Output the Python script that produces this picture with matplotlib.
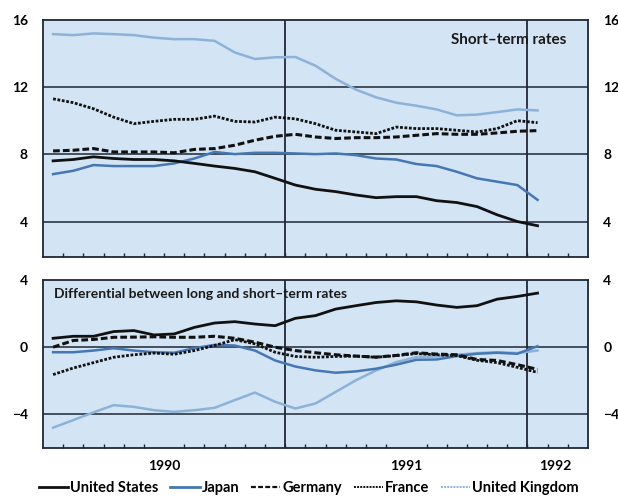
import numpy as np
import matplotlib
matplotlib.use("Agg")
import matplotlib.pyplot as plt
from matplotlib.lines import Line2D

plt.rcParams['font.family'] = ['Lato', 'DejaVu Sans']

# monthly values, Jan 1990 .. Jan 1992 (plotted at mid-month)
months = np.arange(25) + 0.5

# short-term rates
us_short = [7.62, 7.70, 7.86, 7.76, 7.70, 7.70, 7.62, 7.47, 7.31, 7.17, 6.97, 6.58, 6.18,
            5.93, 5.79, 5.59, 5.43, 5.49, 5.49, 5.25, 5.14, 4.90, 4.41, 4.01, 3.76]
japan_short = [6.83, 7.03, 7.37, 7.31, 7.31, 7.31, 7.47, 7.76, 8.15, 8.02, 8.10, 8.10, 8.06,
               8.02, 8.06, 7.96, 7.76, 7.70, 7.43, 7.31, 6.97, 6.58, 6.38, 6.18, 5.30]
germany_short = [8.21, 8.25, 8.35, 8.15, 8.15, 8.15, 8.10, 8.30, 8.35, 8.55, 8.85, 9.08, 9.20,
                 9.04, 8.95, 9.00, 9.00, 9.04, 9.14, 9.24, 9.20, 9.20, 9.28, 9.38, 9.42]
france_short = [11.31, 11.08, 10.72, 10.22, 9.83, 9.97, 10.09, 10.09, 10.28, 9.97, 9.93, 10.22, 10.12,
                9.83, 9.44, 9.34, 9.24, 9.63, 9.54, 9.54, 9.44, 9.34, 9.54, 10.01, 9.89]
uk_short = [15.16, 15.10, 15.20, 15.16, 15.10, 14.95, 14.86, 14.86, 14.76, 14.07, 13.68, 13.78, 13.80,
            13.28, 12.50, 11.86, 11.40, 11.08, 10.90, 10.68, 10.33, 10.37, 10.52, 10.68, 10.62]

# long minus short-term rates
us_diff = [0.53, 0.65, 0.65, 0.93, 0.99, 0.73, 0.79, 1.18, 1.44, 1.52, 1.38, 1.28, 1.72,
           1.88, 2.27, 2.47, 2.66, 2.76, 2.70, 2.51, 2.37, 2.47, 2.86, 3.02, 3.22]
japan_diff = [-0.30, -0.30, -0.20, -0.06, -0.20, -0.30, -0.33, -0.06, 0.14, 0.10, -0.20, -0.79, -1.15,
              -1.38, -1.52, -1.44, -1.28, -1.04, -0.75, -0.73, -0.53, -0.39, -0.33, -0.39, 0.06]
germany_diff = [0.00, 0.40, 0.46, 0.59, 0.60, 0.62, 0.59, 0.59, 0.65, 0.53, 0.30, 0.00, -0.20,
                -0.33, -0.45, -0.53, -0.59, -0.49, -0.33, -0.41, -0.45, -0.73, -0.79, -1.04, -1.32]
france_diff = [-1.63, -1.24, -0.92, -0.60, -0.45, -0.35, -0.42, -0.20, 0.10, 0.45, 0.20, -0.30, -0.55,
               -0.60, -0.55, -0.53, -0.60, -0.50, -0.38, -0.45, -0.50, -0.78, -0.92, -1.20, -1.50]
uk_diff = [-4.79, -4.34, -3.88, -3.45, -3.55, -3.75, -3.85, -3.75, -3.61, -3.15, -2.70, -3.25, -3.65,
           -3.35, -2.66, -1.97, -1.38, -0.89, -0.59, -0.55, -0.45, -0.35, -0.30, -0.35, -0.20]

year_labels = ['1990', '1991', '1992']
year_pos = [6, 18, 25.4]

bg = '#d3e4f4'
frame = '#1e2735'
c_us = '#111111'
c_japan = '#4677b4'
c_uk = '#8db2d8'

fig = plt.figure(figsize=(6.18, 4.97), dpi=100)
W, H = 618, 497
ax1 = fig.add_axes([43 / W, 1 - 257 / H, 545 / W, 237 / H])
ax2 = fig.add_axes([43 / W, 1 - 448 / H, 545 / W, 168 / H])

# title is cut off by the top edge in the source, only descenders show
fig.text(315 / W, 1 + 6 / H, '(monthly averages)', ha='center', va='baseline', fontsize=15)


def style(ax, ylim, yticks, hlines):
    ax.set_facecolor(bg)
    ax.set_xlim(0, 27)
    ax.set_ylim(*ylim)
    for s in ax.spines.values():
        s.set_color(frame)
        s.set_linewidth(1.3)
    for h in hlines:
        ax.axhline(h, color=frame, lw=1.1, zorder=1)
    for v in (12, 24):
        ax.axvline(v, color=frame, lw=1.3, zorder=1)
    ax.set_yticks(yticks)
    ax.tick_params(axis='y', left=False, right=False, labelleft=True, labelright=True,
                   pad=7.5, labelsize=10)
    for lab in ax.get_yticklabels():
        lab.set_fontweight('bold')
    ax.set_xticks(np.arange(1, 27), minor=True)
    ax.tick_params(axis='x', which='minor', direction='in', length=3, width=1, color=frame)
    ax.tick_params(axis='x', which='major', length=0)


style(ax1, (1.9, 16), [4, 8, 12, 16], [4, 8, 12])
style(ax2, (-6, 4), [-4, 0, 4], [-4, 0])
ax1.set_xticks([])
ax1.set_xticks(np.arange(1, 27), minor=True)
ax2.set_xticks(year_pos, year_labels)
ax2.tick_params(axis='x', which='major', pad=9, labelsize=10)
for lab in ax2.get_xticklabels():
    lab.set_fontweight('bold')

for ax, us, jp, ge, fr, uk in [
    (ax1, us_short, japan_short, germany_short, france_short, uk_short),
    (ax2, us_diff, japan_diff, germany_diff, france_diff, uk_diff),
]:
    ax.plot(months, uk, color=c_uk, lw=1.8, zorder=3)
    ax.plot(months, jp, color=c_japan, lw=1.8, zorder=3)
    ax.plot(months, fr, color=c_us, lw=2.0, ls=(0, (1, 0.6)), zorder=4)
    ax.plot(months, ge, color=c_us, lw=2.2, ls=(0, (2.2, 1)), zorder=4)
    ax.plot(months, us, color=c_us, lw=2.0, zorder=5)

ax1.text(0.96, 0.915, 'Short\u2013term rates', transform=ax1.transAxes, ha='right',
         va='center', fontsize=11, fontweight='bold', color='#1a1a1a')
ax2.text(0.02, 0.915, 'Differential between long and short\u2013term rates', transform=ax2.transAxes,
         ha='left', va='center', fontsize=10, fontweight='bold', color='#1a1a1a')

handles = [
    Line2D([], [], color=c_us, lw=2.0),
    Line2D([], [], color=c_japan, lw=2.0),
    Line2D([], [], color=c_us, lw=1.6, ls=(0, (2.2, 1))),
    Line2D([], [], color=c_us, lw=1.4, ls=(0, (1, 0.6))),
    Line2D([], [], color=c_uk, lw=1.4, ls=(0, (1, 0.6))),
]
names = ['United States', 'Japan', 'Germany', 'France', 'United Kingdom']
leg = fig.legend(handles, names, loc='center', bbox_to_anchor=(309 / W, 1 - 488 / H), ncol=5,
                 frameon=False, fontsize=10.5, handlelength=2.0, handletextpad=0.15,
                 columnspacing=0.8, borderaxespad=0)
for t in leg.get_texts():
    t.set_fontweight('bold')

fig.savefig('out.png', dpi=100)
